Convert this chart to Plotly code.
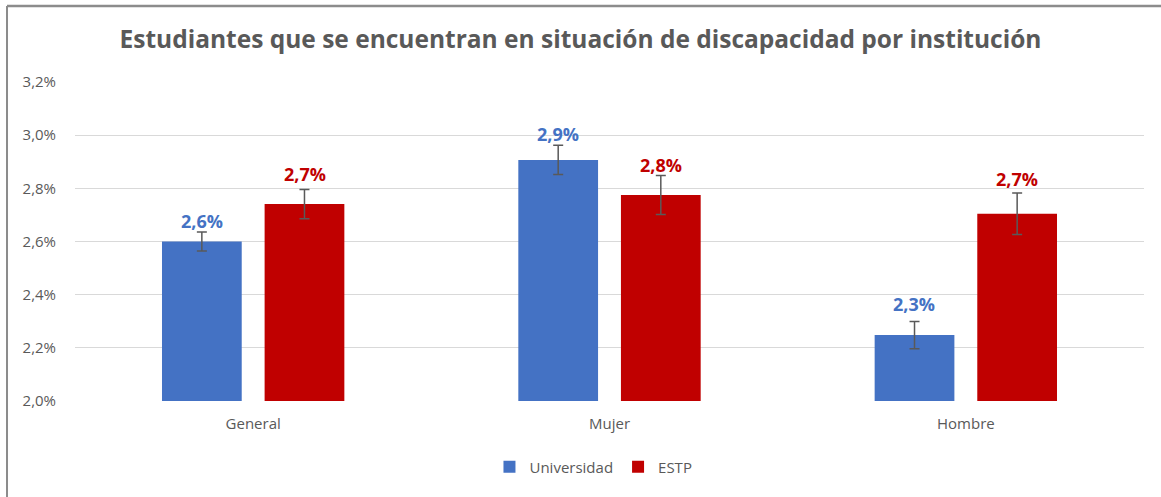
import plotly.graph_objects as go

categories = ["General", "Mujer", "Hombre"]
univ_values = [2.60, 2.907, 2.248]
estp_values = [2.741, 2.775, 2.704]
univ_err = [0.036, 0.055, 0.051]
estp_err = [0.055, 0.073, 0.078]
univ_labels = ["2,6%", "2,9%", "2,3%"]
estp_labels = ["2,7%", "2,8%", "2,7%"]
tick_vals = [2.0, 2.2, 2.4, 2.6, 2.8, 3.0, 3.2]
tick_text = ["2,0%", "2,2%", "2,4%", "2,6%", "2,8%", "3,0%", "3,2%"]

# label pixel offsets above bar tops (style)
univ_label_shift = [21, 25.5, 31]
estp_label_shift = [30.5, 30, 35]

BLUE = "#4472C4"
RED = "#C00000"
GRAY = "#595959"
FONT = "Open Sans"

fig = go.Figure()
fig.add_trace(go.Bar(
    name="Universidad", x=categories, y=univ_values, marker_color=BLUE,
    marker_line_width=0,
    error_y=dict(type="data", array=univ_err, color="#595959", thickness=1.5, width=5),
    text=univ_labels, textposition="none",
))
fig.add_trace(go.Bar(
    name="ESTP", x=categories, y=estp_values, marker_color=RED,
    marker_line_width=0,
    error_y=dict(type="data", array=estp_err, color="#595959", thickness=1.5, width=5),
    text=estp_labels, textposition="none",
))

# data labels above bars
for i, c in enumerate(categories):
    fig.add_annotation(x=c, y=univ_values[i], text="<b>" + univ_labels[i] + "</b>", showarrow=False,
                       xshift=-51.5, yshift=univ_label_shift[i], font=dict(family=FONT, size=18, color=BLUE),
                       xref="x", yref="y")
    fig.add_annotation(x=c, y=estp_values[i], text="<b>" + estp_labels[i] + "</b>", showarrow=False,
                       xshift=51.5, yshift=estp_label_shift[i], font=dict(family=FONT, size=18, color=RED),
                       xref="x", yref="y")

# chart border (top and left)
fig.add_shape(type="line", xref="paper", yref="paper", x0=-0.0636, x1=1.02, y0=1.238, y1=1.238,
              line=dict(color="#8c8c8c", width=2.5))
fig.add_shape(type="line", xref="paper", yref="paper", x0=-0.0636, x1=-0.0636, y0=1.238, y1=-0.31,
              line=dict(color="#8c8c8c", width=2))

fig.update_layout(
    width=1161, height=497,
    margin=dict(l=75, r=17, t=82, b=96),
    paper_bgcolor="white", plot_bgcolor="white",
    barmode="group", bargap=0.424, bargroupgap=0.223,
    title=dict(text="<b>Estudiantes que se encuentran en situación de discapacidad por institución</b>",
               x=0.5, xanchor="center", y=0.92, yanchor="middle",
               font=dict(family=FONT, size=24.5, color=GRAY)),
    font=dict(family=FONT, color=GRAY),
    xaxis=dict(showline=False, ticks="", tickfont=dict(size=15, color=GRAY), ticklabelstandoff=12),
    yaxis=dict(range=[2.0, 3.2], tickvals=tick_vals, ticktext=tick_text,
               showgrid=True, gridcolor="#D9D9D9", gridwidth=1, zeroline=False,
               tickfont=dict(size=15, color=GRAY), ticklen=0, ticklabelstandoff=18),
    legend=dict(orientation="h", x=0.485, xanchor="center", y=-0.207, yanchor="middle",
                font=dict(size=15, color=GRAY), traceorder="normal", itemwidth=30),
    showlegend=True,
)

fig.write_html("out.html", config={"displayModeBar": False},
               post_script="document.body.style.margin='0';document.body.style.overflow='hidden';")
